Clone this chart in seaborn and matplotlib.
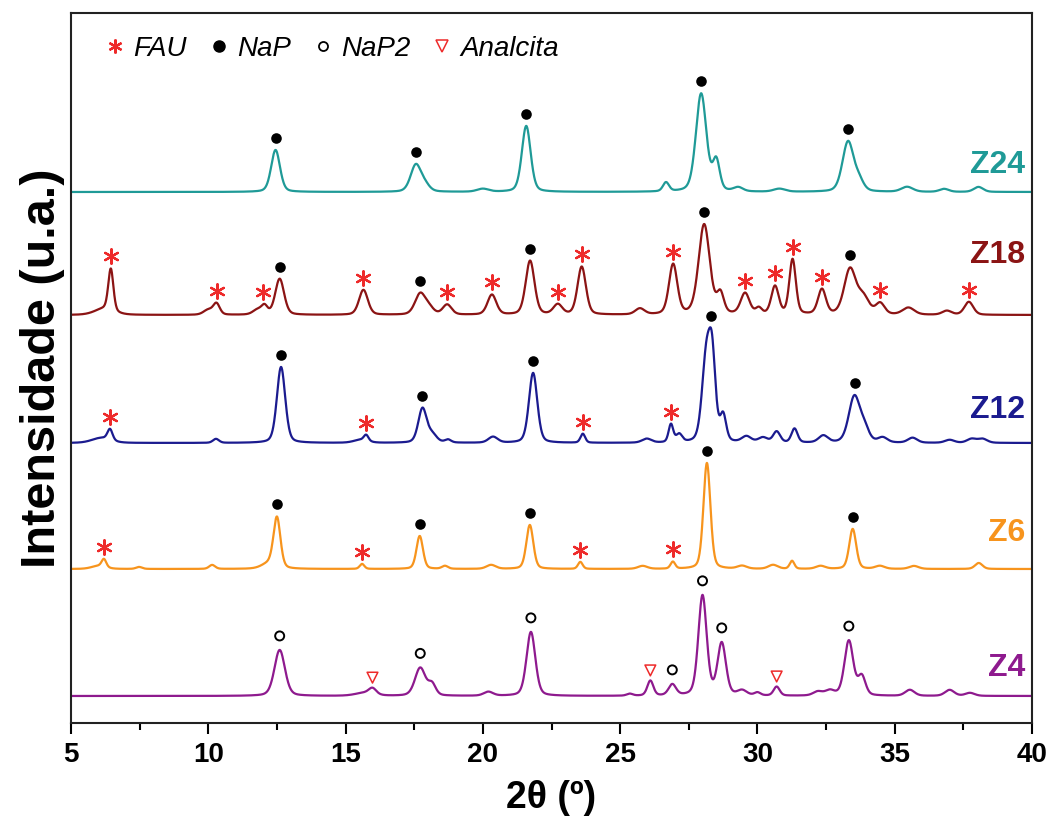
import numpy as np
import pandas as pd
import matplotlib
matplotlib.use("Agg")
import matplotlib.pyplot as plt
from matplotlib.lines import Line2D
import seaborn as sns

# ---------------- data ----------------
samples = ["Z4", "Z6", "Z12", "Z18", "Z24"]
colors = {"Z4": "#8e1a8e", "Z6": "#f7941d", "Z12": "#1b1b8f", "Z18": "#8b1414", "Z24": "#1f9a97"}
baselines = {"Z4": 27, "Z6": 154, "Z12": 280, "Z18": 408, "Z24": 531}
label_y = {"Z4": 55, "Z6": 190, "Z12": 313, "Z18": 468, "Z24": 558}

# peak lists: position (2theta), intensity above baseline, FWHM
z24_pos = [12.45, 17.56, 17.9, 20.0, 21.58, 26.67, 27.95, 28.5, 29.3, 30.8, 33.3, 33.7, 35.45, 36.8, 38.05]
z24_int = [42, 27, 6, 3, 66, 9, 98, 30, 4, 3, 50, 10, 5, 3, 5]
z24_fwhm = [0.38, 0.45, 0.4, 0.5, 0.38, 0.26, 0.45, 0.3, 0.4, 0.5, 0.48, 0.4, 0.5, 0.4, 0.4]

z18_pos = [6.2, 6.45, 10.0, 10.3, 11.8, 12.05, 12.6, 15.65, 17.72, 18.05, 18.7, 20.33, 21.72, 22.73, 23.6,
           25.72, 26.93, 28.06, 28.65, 29.55, 30.05, 30.64, 31.28, 32.35, 33.37, 33.85, 34.47, 35.5, 36.9, 37.7]
z18_int = [6, 42, 5, 11, 5, 8, 36, 25, 21, 6, 10, 20, 54, 10, 48,
           6, 50, 90, 20, 21, 6, 28, 55, 25, 45, 17, 11, 7, 4, 13]
z18_fwhm = [0.8, 0.22, 0.4, 0.28, 0.4, 0.26, 0.38, 0.38, 0.45, 0.4, 0.38, 0.38, 0.38, 0.38, 0.36,
            0.4, 0.36, 0.48, 0.3, 0.38, 0.26, 0.32, 0.28, 0.34, 0.5, 0.5, 0.38, 0.5, 0.4, 0.38]

z12_pos = [6.1, 6.42, 10.28, 12.65, 15.55, 15.75, 17.8, 18.15, 18.73, 20.37, 21.83, 23.64, 25.97, 26.85, 27.15,
           28.13, 28.35, 28.75, 29.6, 30.2, 30.7, 31.35, 32.4, 33.53, 33.9, 34.56, 35.65, 37.0, 37.8, 38.2]
z12_int = [5, 11, 4, 76, 3, 6, 34, 8, 3, 6, 70, 9, 4, 18, 8,
           80, 78, 26, 6, 5, 11, 14, 7, 46, 13, 5, 5, 3, 4, 4]
z12_fwhm = [0.8, 0.22, 0.26, 0.36, 0.6, 0.2, 0.36, 0.4, 0.26, 0.4, 0.36, 0.2, 0.4, 0.2, 0.26,
            0.36, 0.3, 0.26, 0.4, 0.4, 0.3, 0.26, 0.4, 0.48, 0.4, 0.4, 0.4, 0.4, 0.4, 0.4]

z6_pos = [6.0, 6.2, 7.48, 10.14, 12.2, 12.5, 15.6, 17.7, 18.62, 20.3, 21.71, 23.55, 25.82, 26.92, 28.16,
          29.44, 30.57, 31.26, 32.3, 33.47, 34.46, 35.7, 38.06]
z6_int = [3, 8, 2, 4, 5, 50, 5, 33, 3, 4, 44, 7, 3, 7, 106,
          3, 4, 8, 3, 40, 3, 3, 6]
z6_fwhm = [0.6, 0.2, 0.26, 0.26, 0.6, 0.3, 0.2, 0.28, 0.26, 0.4, 0.3, 0.2, 0.4, 0.2, 0.3,
           0.4, 0.4, 0.2, 0.4, 0.3, 0.4, 0.4, 0.32]

z4_pos = [12.6, 15.7, 15.98, 17.72, 18.15, 20.2, 21.75, 25.35, 26.1, 26.9, 28.0, 28.7, 29.44, 30.0, 30.7,
          32.2, 32.64, 33.33, 33.8, 35.55, 37.0, 37.74]
z4_int = [46, 3, 6, 28, 11, 4, 64, 2, 15, 11, 100, 52, 5, 3, 9,
          4, 5, 55, 19, 6, 6, 3]
z4_fwhm = [0.45, 0.8, 0.32, 0.45, 0.32, 0.4, 0.38, 0.26, 0.26, 0.32, 0.36, 0.36, 0.4, 0.26, 0.26,
           0.4, 0.4, 0.38, 0.32, 0.4, 0.4, 0.4]

# phase identification marks (2theta)
z24_nap = [12.45, 17.56, 21.58, 27.95, 33.3]
z18_fau = [6.45, 10.3, 12.0, 15.65, 18.7, 20.33, 22.73, 23.6, 26.93, 29.55, 30.64, 31.28, 32.35, 34.47, 37.7]
z18_nap = [12.6, 17.72, 21.72, 28.06, 33.37]
z12_fau = [6.42, 15.75, 23.64, 26.85]
z12_nap = [12.65, 17.8, 21.83, 28.3, 33.55]
z6_fau = [6.2, 15.6, 23.55, 26.92]
z6_nap = [12.5, 17.7, 21.71, 28.16, 33.47]
z4_nap2 = [12.6, 17.72, 21.75, 26.9, 28.0, 28.7, 33.33]
z4_anal = [15.98, 26.1, 30.7]

x_ticks = [5, 10, 15, 20, 25, 30, 35, 40]

peak_tables = {
    "Z24": (z24_pos, z24_int, z24_fwhm),
    "Z18": (z18_pos, z18_int, z18_fwhm),
    "Z12": (z12_pos, z12_int, z12_fwhm),
    "Z6": (z6_pos, z6_int, z6_fwhm),
    "Z4": (z4_pos, z4_int, z4_fwhm),
}
marks = {
    "FAU": [("Z18", z18_fau), ("Z12", z12_fau), ("Z6", z6_fau)],
    "NaP": [("Z24", z24_nap), ("Z18", z18_nap), ("Z12", z12_nap), ("Z6", z6_nap)],
    "NaP2": [("Z4", z4_nap2)],
    "Analcita": [("Z4", z4_anal)],
}

# ---------------- build profiles ----------------
tt = np.linspace(5, 40, 3501)


def profile(x, pos, inten, fwhm, base, eta=0.3):
    y = np.full_like(x, float(base))
    for p, h, w in zip(pos, inten, fwhm):
        g = np.exp(-4 * np.log(2) * ((x - p) / w) ** 2)
        l = 1.0 / (1.0 + 4 * ((x - p) / w) ** 2)
        y += h * (eta * l + (1 - eta) * g)
    return y


rows = []
curves = {}
for s in samples:
    pos, inten, fw = peak_tables[s]
    y = profile(tt, pos, inten, fw, baselines[s])
    curves[s] = y
    rows.append(pd.DataFrame({"two_theta": tt, "intensity": y, "sample": s}))
df = pd.concat(rows, ignore_index=True)

mark_rows = []
offsets = {"FAU": 12, "NaP": 12, "NaP2": 14, "Analcita": 10}
for phase, lst in marks.items():
    for s, xs in lst:
        for xv in xs:
            yv = np.interp(xv, tt, curves[s])
            mark_rows.append({"two_theta": xv, "intensity": yv + offsets[phase], "phase": phase})
mk = pd.DataFrame(mark_rows)

# ---------------- plot ----------------
sns.set_theme(style="white")
plt.rcParams["font.family"] = ["Liberation Sans", "DejaVu Sans"]
plt.rcParams["text.color"] = "black"
plt.rcParams["axes.labelcolor"] = "black"
plt.rcParams["xtick.color"] = "black"

fig = plt.figure(figsize=(10.51, 8.24), dpi=100)
ax = fig.add_axes([71 / 1051, 101 / 824, 961 / 1051, 710 / 824])

sns.lineplot(data=df, x="two_theta", y="intensity", hue="sample", palette=colors,
             estimator=None, sort=False, legend=False, linewidth=1.6, ax=ax)

star = (6, 2, 0)
sns.scatterplot(data=mk[mk.phase == "FAU"], x="two_theta", y="intensity", marker=star, s=110,
                color="#ee2a2a", linewidth=1.6, edgecolor="#ee2a2a", ax=ax, legend=False, zorder=5)
sns.scatterplot(data=mk[mk.phase == "NaP"], x="two_theta", y="intensity", marker="o", s=58,
                color="black", edgecolor="black", linewidth=0, ax=ax, legend=False, zorder=5)
sns.scatterplot(data=mk[mk.phase == "NaP2"], x="two_theta", y="intensity", marker="o", s=42,
                facecolor="none", edgecolor="black", linewidth=1.4, ax=ax, legend=False, zorder=5)
sns.scatterplot(data=mk[mk.phase == "Analcita"], x="two_theta", y="intensity", marker="v", s=60,
                facecolor="none", edgecolor="#ee2a2a", linewidth=1.1, ax=ax, legend=False, zorder=5)

for s in samples:
    ax.text(39.75, label_y[s], s, color=colors[s], fontsize=23, fontweight="bold",
            ha="right", va="center")

ax.set_xlim(5, 40)
ax.set_ylim(0, 710)
ax.set_yticks([])
ax.set_xticks(x_ticks)
ax.set_xticks(np.arange(7.5, 40, 5), minor=True)
ax.set_xticklabels([str(t) for t in x_ticks], fontsize=20, fontweight="bold")
ax.tick_params(axis="x", which="major", direction="out", length=8, width=1.5, bottom=True, pad=6, colors="black")
ax.tick_params(axis="x", which="minor", direction="out", length=5, width=1.5, bottom=True)
for sp in ax.spines.values():
    sp.set_linewidth(1.5)
    sp.set_color("#222222")

ax.set_xlabel("2θ (º)", fontsize=27, fontweight="bold", labelpad=8)
ax.set_ylabel("Intensidade (u.a.)", fontsize=35, fontweight="bold", labelpad=4)

handles = [
    Line2D([], [], linestyle="none", marker=star, markersize=10, markeredgewidth=1.6, color="#ee2a2a"),
    Line2D([], [], linestyle="none", marker="o", markersize=8, color="black"),
    Line2D([], [], linestyle="none", marker="o", markersize=6.5, markerfacecolor="none",
           markeredgecolor="black", markeredgewidth=1.3),
    Line2D([], [], linestyle="none", marker="v", markersize=8, markerfacecolor="none",
           markeredgecolor="#ee2a2a", markeredgewidth=1.1),
]
leg = ax.legend(handles, ["FAU", "NaP", "NaP2", "Analcita"], loc="upper left", bbox_to_anchor=(0.01, 1.003),
                ncol=4, frameon=False, handlelength=0.7, handletextpad=0.3, columnspacing=0.8,
                prop={"style": "italic", "size": 20})

fig.savefig("out.png", dpi=100)
